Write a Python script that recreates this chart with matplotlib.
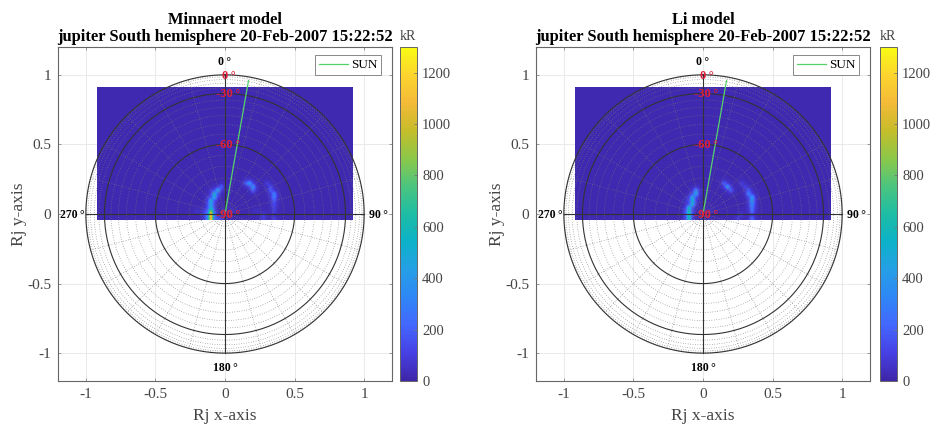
import numpy as np
import matplotlib
matplotlib.use("Agg")
import matplotlib.pyplot as plt
from matplotlib.colors import LinearSegmentedColormap

plt.rcParams['font.family'] = ['Liberation Serif', 'DejaVu Serif']

parula_colors = ['#3e26a8', '#4740e5', '#4367fd', '#2e87f7', '#259fe6', '#0cb2c9',
                 '#1ebda5', '#4bc57f', '#8bc84a', '#c5bd2a', '#f4ba38', '#fcd42e', '#f9fb15']
parula = LinearSegmentedColormap.from_list('parula', parula_colors, N=256)

# image extent and cell size in Rj
x_min, x_max, y_min, y_max = -0.92, 0.915, -0.045, 0.906
cell = 0.025

background = 20
# bright cells, x / y / kR
left_x = [-0.10, -0.10, -0.105, -0.105, -0.105, -0.10, -0.09, -0.085, -0.07, -0.05, -0.03,
          0.15, 0.165, 0.18, 0.195,
          0.29, 0.31, 0.325, 0.34, 0.35, 0.355, 0.355, 0.35, 0.345, 0.34,
          -0.16, -0.15, -0.14, -0.13, -0.12, -0.07, -0.04, 0.27, 0.26, 0.22, 0.03, -0.2, -0.125]
left_y = [-0.04, -0.015, 0.01, 0.035, 0.06, 0.085, 0.11, 0.135, 0.16, 0.18, 0.195,
          0.22, 0.21, 0.195, 0.18,
          0.22, 0.19, 0.165, 0.14, 0.115, 0.09, 0.065, 0.04, 0.01, -0.03,
          0.0, 0.03, 0.07, 0.12, 0.16, -0.02, -0.03, 0.0, -0.03, 0.03, 0.02, 0.01, -0.03]
left_v = [1250, 1280, 950, 540, 480, 500, 520, 540, 480, 350, 200,
          220, 420, 400, 230,
          110, 150, 200, 330, 320, 200, 150, 120, 110, 110,
          120, 110, 90, 90, 80, 150, 100, 110, 110, 60, 60, 70, 300]

li_x = [-0.10, -0.10, -0.10, -0.10, -0.095, -0.09, -0.08, -0.07, -0.055,
        0.14, 0.16, 0.175, 0.19,
        0.26, 0.285, 0.305, 0.32, 0.33, 0.34, 0.345, 0.35, 0.355, 0.355,
        -0.14, -0.13, -0.12, 0.235, 0.26, 0.03]
li_y = [-0.04, -0.015, 0.01, 0.035, 0.06, 0.085, 0.11, 0.135, 0.175,
        0.22, 0.20, 0.185, 0.17,
        0.21, 0.19, 0.17, 0.145, 0.125, 0.095, 0.065, 0.04, 0.01, -0.02,
        0.03, 0.08, 0.13, -0.03, 0.0, 0.02]
li_v = [620, 680, 640, 580, 540, 520, 500, 480, 360,
        220, 430, 400, 220,
        110, 130, 200, 320, 450, 420, 350, 300, 260, 230,
        80, 70, 70, 100, 90, 60]

# grid lines
solid_lat = [0, -30, -60]
dotted_lat = [-5, -10, -15, -20, -25, -35, -40, -45, -50, -55, -65, -70, -75, -80, -85]
dotted_lon = [15, 30, 45, 60, 75, 105, 120, 135, 150, 165, 195, 210, 225, 240, 255, 285, 300, 315, 330, 345]
solid_lon = [0, 90, 180, 270]
lat_labels = [0, -30, -60, -90]
sun_lon = 10

ticks = [-1, -0.5, 0, 0.5, 1]
tick_labels = ['-1', '-0.5', '0', '0.5', '1']
cbar_ticks = [0, 200, 400, 600, 800, 1000, 1200]


def make_image(xs, ys, vs):
    nx = int(round((x_max - x_min) / cell))
    ny = int(round((y_max - y_min) / cell))
    img = np.full((ny, nx), float(background))
    for x, y, v in zip(xs, ys, vs):
        i = int((y - y_min) / cell)
        j = int((x - x_min) / cell)
        img[i, j] = max(img[i, j], v)
    # picture is blurred, so spread every cell a little to its neighbours
    kernel = np.array([0.2, 0.6, 0.2])
    spread = np.apply_along_axis(lambda r: np.convolve(r, kernel, mode='same'), 0, img - background)
    spread = np.apply_along_axis(lambda r: np.convolve(r, kernel, mode='same'), 1, spread) + background
    return np.maximum(spread, img * 0.95)


def draw_panel(ax, cax, title, xs, ys, vs):
    im = ax.imshow(make_image(xs, ys, vs), extent=(x_min, x_max, y_min, y_max), origin='lower',
                   cmap=parula, vmin=0, vmax=1300, interpolation='bilinear', aspect='auto', zorder=2)
    ax.set_xlim(-1.2, 1.2)
    ax.set_ylim(-1.2, 1.2)
    ax.grid(True, color='#e6e6e6', lw=0.6)
    ax.set_axisbelow(True)

    t = np.radians(np.arange(0, 361, 1))
    for lat in dotted_lat:
        r = np.cos(np.radians(lat))
        ax.plot(r * np.sin(t), r * np.cos(t), color='#777777', lw=0.5, ls=(0, (1, 2.5)), zorder=3)
    for lat in solid_lat:
        r = np.cos(np.radians(lat))
        ax.plot(r * np.sin(t), r * np.cos(t), color='#333333', lw=0.8, zorder=4)
    for lon in dotted_lon:
        a = np.radians(lon)
        ax.plot([0, np.sin(a)], [0, np.cos(a)], color='#777777', lw=0.5, ls=(0, (1, 2.5)), zorder=3)
    for lon in solid_lon:
        a = np.radians(lon)
        ax.plot([0, np.sin(a)], [0, np.cos(a)], color='#333333', lw=0.8, zorder=4)

    a = np.radians(sun_lon)
    line, = ax.plot([0, 0.975 * np.sin(a)], [0, 0.975 * np.cos(a)], color='#55d36b', lw=0.9, zorder=5, label='SUN')
    leg = ax.legend(handles=[line], loc='upper right', bbox_to_anchor=(0.967, 0.976), borderaxespad=0, fancybox=False,
                    framealpha=1, edgecolor='#888888', fontsize=9.5, handlelength=2.2, handletextpad=0.2,
                    borderpad=0.3)
    leg.get_frame().set_linewidth(0.7)

    for lat in lat_labels:
        r = np.cos(np.radians(lat))
        ax.text(0.025, r - 0.005, '%d\u2009°' % lat, color='#e0203a', fontsize=9, fontweight='bold',
                ha='center', va='center', zorder=6)
    ax.text(0, 1.09, '0\u2009°', fontsize=8.5, fontweight='bold', ha='center', va='center')
    ax.text(1.10, -0.01, '90\u2009°', fontsize=8.5, fontweight='bold', ha='center', va='center')
    ax.text(-1.10, -0.01, '270\u2009°', fontsize=8.5, fontweight='bold', ha='center', va='center')
    ax.text(0.005, -1.11, '180\u2009°', fontsize=8.5, fontweight='bold', ha='center', va='center')

    ax.set_xticks(ticks)
    ax.set_xticklabels(tick_labels)
    ax.set_yticks(ticks)
    ax.set_yticklabels(tick_labels)
    ax.tick_params(direction='in', length=2.5, width=0.5, color='#777777', labelcolor='#444444', labelsize=11,
                   top=True, right=True, pad=5)
    for s in ax.spines.values():
        s.set_color('#666666')
        s.set_linewidth(0.8)
    ax.set_xlabel('Rj x-axis', fontsize=12.5, color='#444444', labelpad=5)
    ax.set_ylabel('Rj y-axis', fontsize=12.5, color='#444444', labelpad=0)
    ax.set_title(title, fontsize=11.9, fontweight='bold', pad=4, linespacing=1.15)

    cb = plt.colorbar(im, cax=cax)
    cb.set_ticks(cbar_ticks)
    cb.ax.tick_params(direction='in', length=2, width=0.6, color='#777777', labelcolor='#444444', labelsize=10.5, pad=4)
    cb.outline.set_edgecolor('#666666')
    cb.outline.set_linewidth(0.7)
    cax.set_title('kR', fontsize=10, color='#444444', pad=5)


fig = plt.figure(figsize=(9.3, 4.25), dpi=100)
W, H = 930.0, 425.0
ax1 = fig.add_axes([58 / W, 1 - 381 / H, 334 / W, 334 / H])
cax1 = fig.add_axes([400 / W, 1 - 381 / H, 16.5 / W, 334 / H])
ax2 = fig.add_axes([536 / W, 1 - 381 / H, 334 / W, 334 / H])
cax2 = fig.add_axes([880 / W, 1 - 381 / H, 16.5 / W, 334 / H])

draw_panel(ax1, cax1, 'Minnaert model\njupiter South hemisphere 20-Feb-2007 15:22:52', left_x, left_y, left_v)
draw_panel(ax2, cax2, 'Li model\njupiter South hemisphere 20-Feb-2007 15:22:52', li_x, li_y, li_v)

fig.savefig('out.png', dpi=100)
